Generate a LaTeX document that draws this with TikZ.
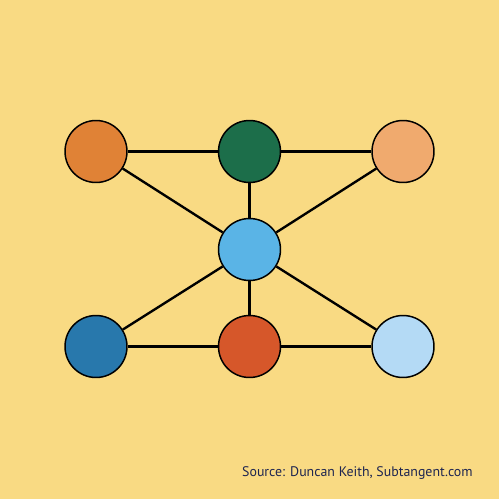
\documentclass[tikz,border=0pt]{standalone}
\usepackage{fontspec}
\setmainfont{PT Sans}
\usetikzlibrary{positioning}
\definecolor{bgyellow}{HTML}{F9DA83}
\definecolor{vorange}{HTML}{E08236}
\definecolor{vgreen}{HTML}{1C6E4A}
\definecolor{vpeach}{HTML}{F0AA6E}
\definecolor{vsky}{HTML}{5AB4E6}
\definecolor{vblue}{HTML}{2878AC}
\definecolor{vred}{HTML}{D6572A}
\definecolor{vpale}{HTML}{B4DAF5}
\definecolor{srcnavy}{HTML}{1E2550}
\tikzset{x=0.02cm, y=-0.02cm, % one unit is one pixel of the 500x500 picture
         vertex/.style={ % Sets the properties for each vertex
           circle,
           draw=black,
           line width=0.85pt,
           minimum size=1.24cm,
           inner sep=0pt},
         link/.style={ % Sets the properties for each connector
           draw=black,
           line width=1.35pt}}

\begin{document}
\begin{tikzpicture}
\fill[white] (0,0) rectangle (500,500);
\fill[bgyellow] (0,0) rectangle (499,499);
\useasboundingbox (0,0) rectangle (500,500);

\node[vertex, fill=vorange] (tl) at (96,151.5) {};
\node[vertex, fill=vgreen]  (tm) at (249.5,151.5) {};
\node[vertex, fill=vpeach]  (tr) at (403,151.5) {};
\node[vertex, fill=vsky]    (c)  at (249.5,249.5) {};
\node[vertex, fill=vblue]   (bl) at (96,346.5) {};
\node[vertex, fill=vred]    (bm) at (249.5,346.5) {};
\node[vertex, fill=vpale]   (br) at (403,346.5) {};

\draw[link] (tl) -- (tm);
\draw[link] (tm) -- (tr);
\draw[link] (tl) -- (c);
\draw[link] (tm) -- (c);
\draw[link] (tr) -- (c);

\draw[link] (bl) -- (bm);
\draw[link] (bm) -- (br);
\draw[link] (bl) -- (c);
\draw[link] (bm) -- (c);
\draw[link] (br) -- (c);

\node[anchor=base east, inner sep=0pt, text=srcnavy, font=\fontsize{7.9}{9.5}\selectfont]
  (src) at (473,476) {Source: Duncan Keith, Subtangent.com};

\end{tikzpicture}
\end{document}
